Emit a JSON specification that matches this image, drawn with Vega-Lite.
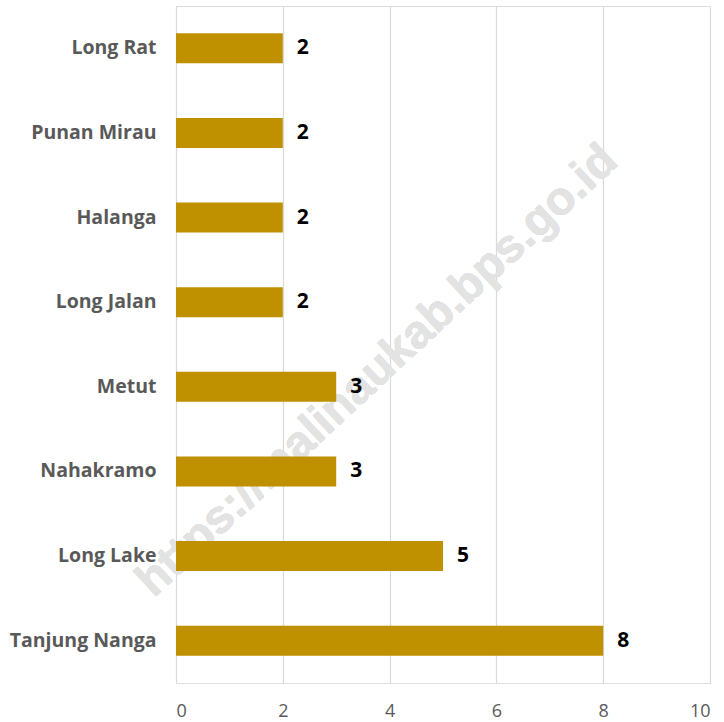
{
  "$schema": "https://vega.github.io/schema/vega-lite/v6.json",
  "autosize": {"type": "none"},
  "padding": {"left": 176, "top": 6, "right": 14, "bottom": 39},
  "width": 534,
  "height": 677,
  "background": "white",
  "data": {
    "values": [
      {"desa": "Long Rat", "jumlah": 2},
      {"desa": "Punan Mirau", "jumlah": 2},
      {"desa": "Halanga", "jumlah": 2},
      {"desa": "Long Jalan", "jumlah": 2},
      {"desa": "Metut", "jumlah": 3},
      {"desa": "Nahakramo", "jumlah": 3},
      {"desa": "Long Lake", "jumlah": 5},
      {"desa": "Tanjung Nanga", "jumlah": 8}
    ]
  },
  "encoding": {
    "y": {
      "field": "desa",
      "type": "nominal",
      "sort": null,
      "title": null,
      "scale": {
        "domain": ["Long Rat", "Punan Mirau", "Halanga", "Long Jalan", "Metut", "Nahakramo", "Long Lake", "Tanjung Nanga"],
        "paddingInner": 0.645,
        "paddingOuter": 0.3225
      },
      "axis": {
        "domain": false,
        "ticks": false,
        "grid": false,
        "labelPadding": 20,
        "labelFont": "Open Sans",
        "labelFontSize": 19.5,
        "labelFontWeight": "bold",
        "labelColor": "#595959"
      }
    },
    "x": {
      "field": "jumlah",
      "type": "quantitative",
      "title": null,
      "scale": {"domain": [0, 10]},
      "axis": {
        "values": [0, 2, 4, 6, 8, 10],
        "domain": false,
        "ticks": false,
        "grid": true,
        "gridColor": "#d9d9d9",
        "gridWidth": 1.2,
        "labelPadding": 19,
        "labelFont": "Open Sans",
        "labelFontSize": 18,
        "labelColor": "#595959"
      }
    }
  },
  "layer": [
    {
      "description": "Watermark behind the bars",
      "mark": {
        "type": "text",
        "angle": -43,
        "align": "center",
        "baseline": "middle",
        "dy": -22,
        "font": "Liberation Sans",
        "fontSize": 47,
        "fontWeight": "bold",
        "color": "#e3e3e3"
      },
      "encoding": {
        "x": {"datum": 4.05},
        "y": {"datum": "Metut"},
        "text": {"value": "https://malinaukab.bps.go.id"}
      }
    },
    {
      "mark": {"type": "bar", "color": "#bf9000"}
    },
    {
      "mark": {
        "type": "text",
        "align": "left",
        "baseline": "middle",
        "dx": 14,
        "font": "Open Sans",
        "fontSize": 21,
        "fontWeight": "bold",
        "color": "black"
      },
      "encoding": {"text": {"field": "jumlah", "type": "quantitative"}}
    }
  ]
}
